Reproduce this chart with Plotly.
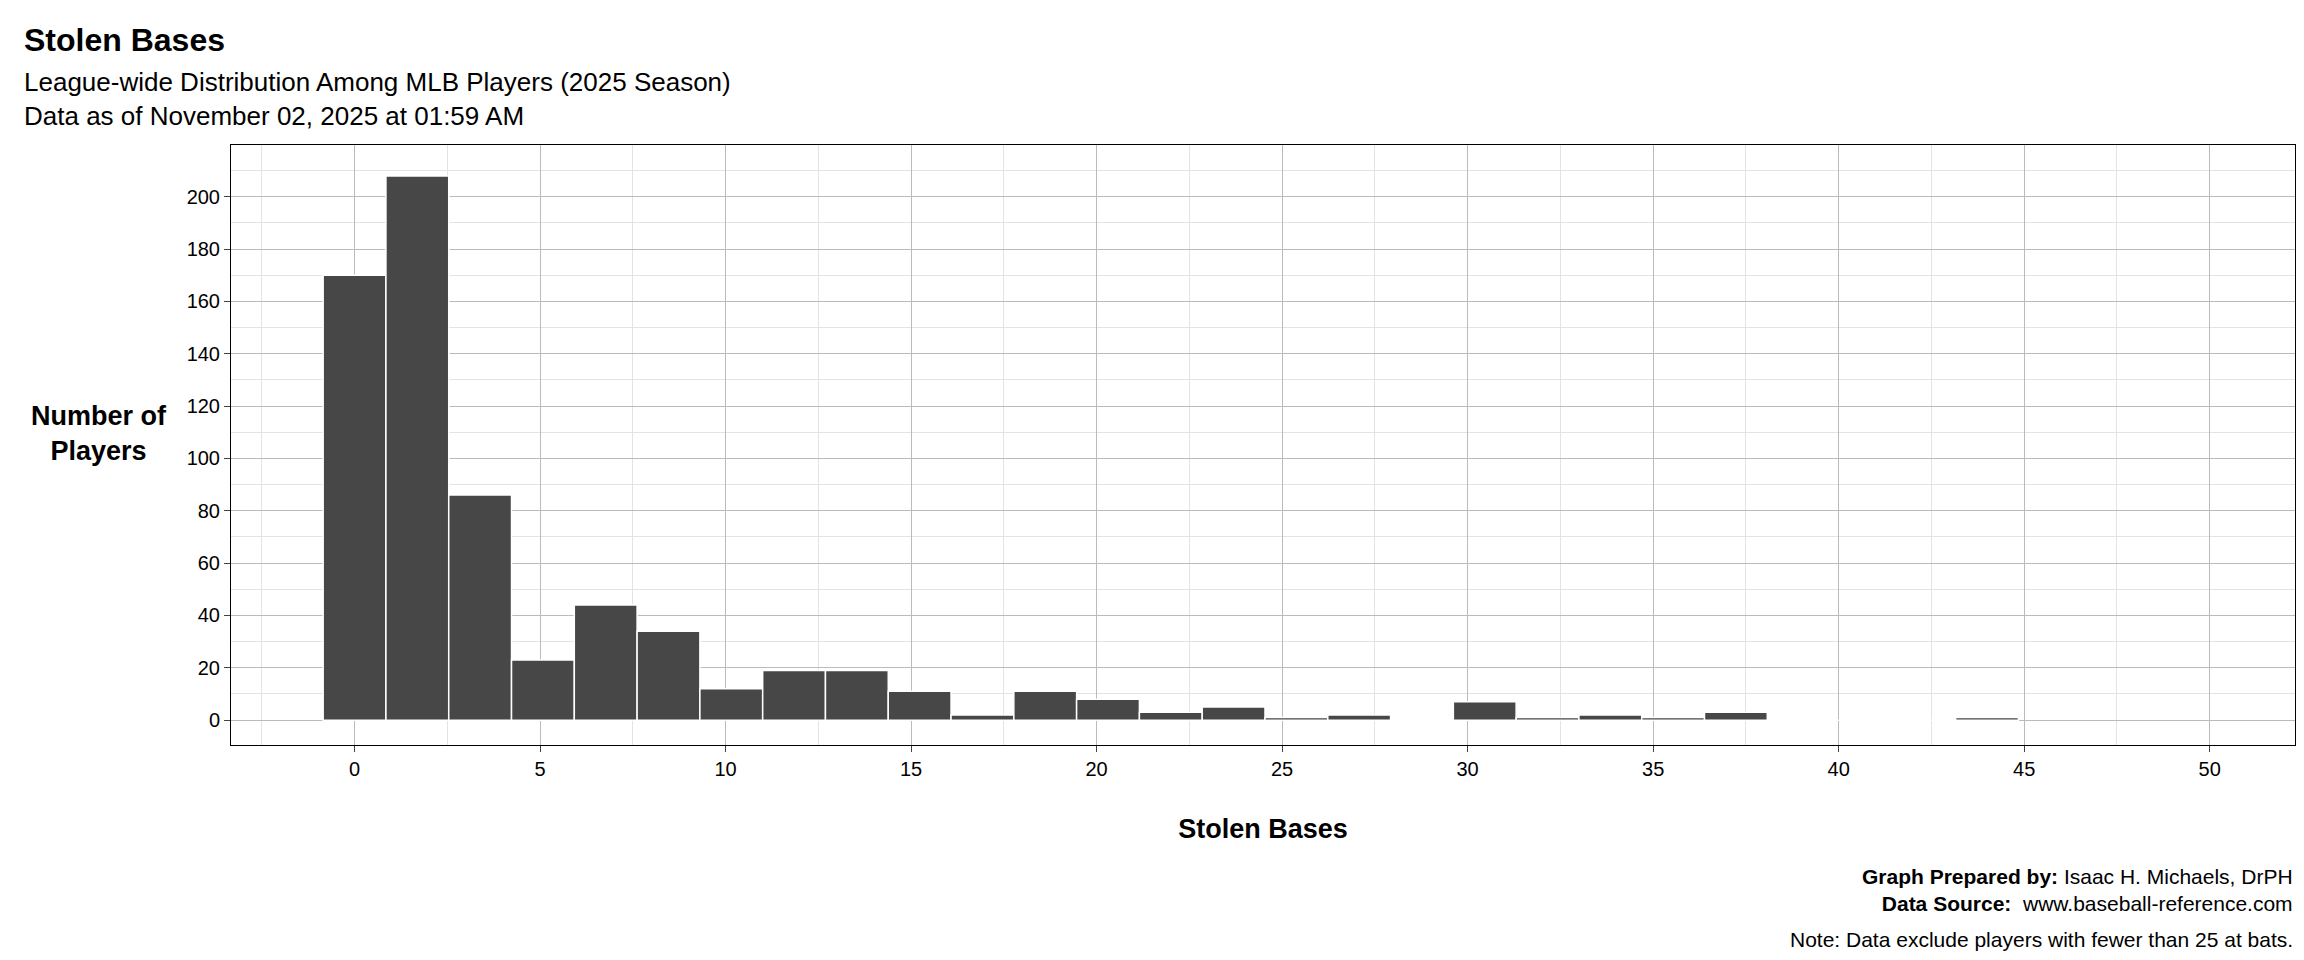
import plotly.graph_objects as go

bin_width = 44/26
bin_index = list(range(27))
counts = [170, 208, 86, 23, 44, 34, 12, 19, 19, 11, 2, 11, 8, 3, 5, 1, 2, 0, 7, 1, 2, 1, 3, 0, 0, 0, 1]
x_ticks = [0, 5, 10, 15, 20, 25, 30, 35, 40, 45, 50]
y_ticks = [0, 20, 40, 60, 80, 100, 120, 140, 160, 180, 200]

centers = [k*bin_width for k in bin_index]
F = "Liberation Sans"
fig = go.Figure(go.Bar(x=centers, y=counts, width=bin_width, marker=dict(color="#474747", line=dict(color="white", width=1.5))))

def py(p):
    return (737 - p) / 600

fig.update_layout(
    width=2304, height=960, plot_bgcolor="white", paper_bgcolor="white",
    margin=dict(l=223, r=17, t=137, b=223), showlegend=False,
    font=dict(family=F, color="black"),
    xaxis=dict(range=[-3.33, 52.3], tickvals=x_ticks, tickfont=dict(size=20), ticks="outside", ticklen=6,
               showgrid=True, gridcolor="#bbbbbb", gridwidth=1, zeroline=False,
               minor=dict(dtick=2.5, tick0=0, showgrid=True, gridcolor="#e3e3e3"),
               showline=True, linecolor="black", mirror=True,
               title=dict(text="<b>Stolen Bases</b>", font=dict(size=27), standoff=40)),
    yaxis=dict(range=[-9.5, 219.8], tickvals=y_ticks, tickfont=dict(size=20), ticks="outside", ticklen=6,
               showgrid=True, gridcolor="#bbbbbb", gridwidth=1, zeroline=False,
               minor=dict(dtick=10, tick0=0, showgrid=True, gridcolor="#e3e3e3"),
               showline=True, linecolor="black", mirror=True),
)
xl = -209/2064
fig.add_annotation(text="<b>Number of<br>Players</b>", xref="paper", yref="paper", x=-0.064, y=0.52, xanchor="center", yanchor="middle", showarrow=False, font=dict(size=27))
fig.add_annotation(text="<b>Stolen Bases</b>", xref="paper", yref="paper", x=xl, y=py(12), xanchor="left", yanchor="top", showarrow=False, font=dict(size=32))
fig.add_annotation(text="League-wide Distribution Among MLB Players (2025 Season)<br>Data as of November 02, 2025 at 01:59 AM", xref="paper", yref="paper", x=xl, y=py(57), xanchor="left", yanchor="top", align="left", showarrow=False, font=dict(size=26))
fig.add_annotation(text="<b>Graph Prepared by:</b> Isaac H. Michaels, DrPH<br><b>Data Source:</b>  www.baseball-reference.com", xref="paper", yref="paper", x=1, y=py(855), xanchor="right", yanchor="top", align="right", showarrow=False, font=dict(size=21))
fig.add_annotation(text="Note: Data exclude players with fewer than 25 at bats.", xref="paper", yref="paper", x=1, y=py(918), xanchor="right", yanchor="top", align="right", showarrow=False, font=dict(size=21))
fig.write_html("out.html")
